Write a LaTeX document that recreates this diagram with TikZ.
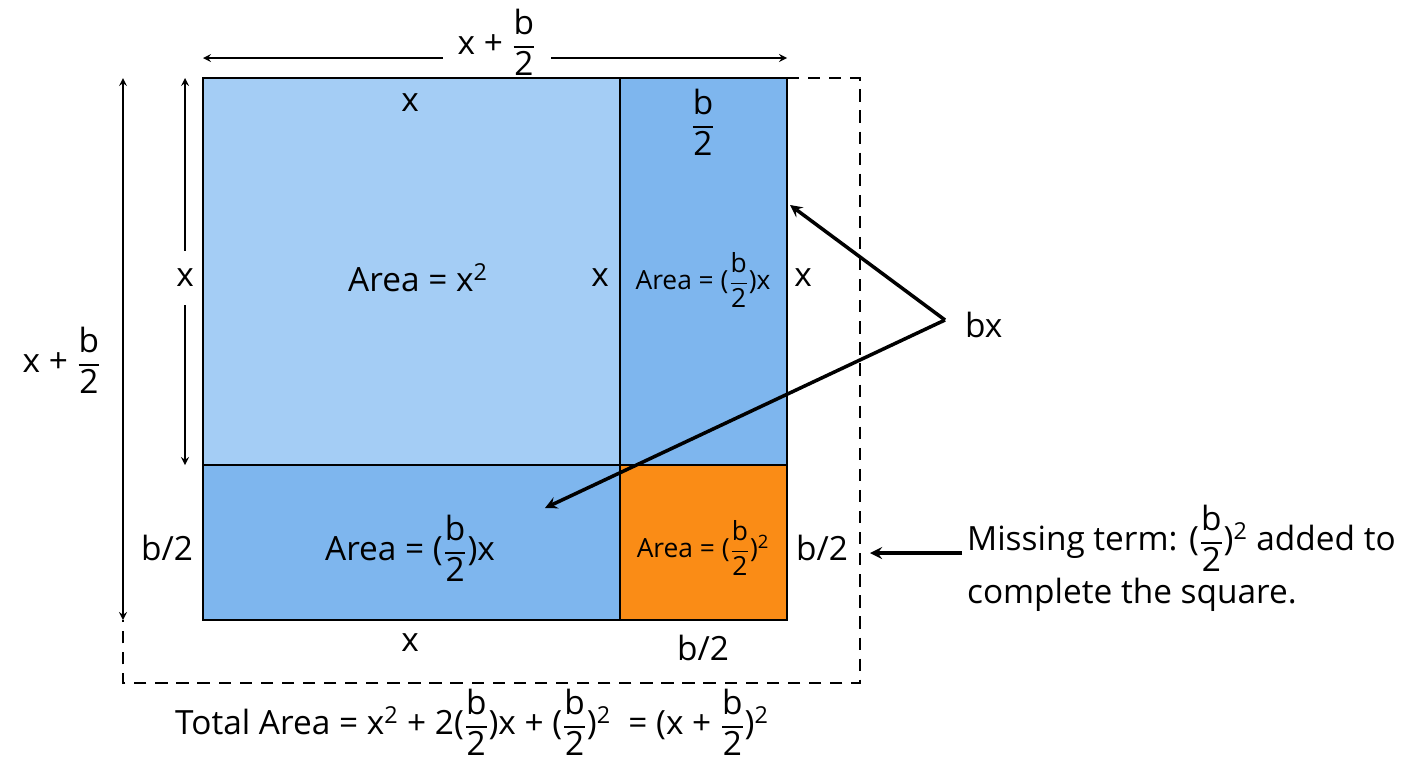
\documentclass[tikz,border=0pt]{standalone}
\usepackage{amsmath}
\usepackage{fontspec}
\setmainfont{Open Sans}
\usetikzlibrary{positioning}
\definecolor{lightsq}{HTML}{A4CDF5}
\definecolor{midsq}{HTML}{7EB6EE}
\definecolor{orangesq}{HTML}{FA8C16}
\newcommand{\hb}{$\dfrac{\text{b}}{\text{2}}$}
\newcommand{\sq}{$^{\text{2}}$}
\begin{document}
\begin{tikzpicture}[x=0.02cm,y=-0.02cm,
  lbl/.style={font=\fontsize{19}{22}\selectfont,inner sep=1pt},
  small/.style={font=\fontsize{15}{18}\selectfont,inner sep=1pt},
  region/.style={draw=black,line width=1.2pt},
  dim/.style={<->,>=stealth,line width=1pt},
  half/.style={<-,>=stealth,line width=1pt},
  pointer/.style={->,>=stealth,line width=2pt}]
  \useasboundingbox (0,0) rectangle (1408,768);
  % squares
  \fill[lightsq] (203,78) rectangle (620,465);
  \fill[midsq] (620,78) rectangle (787,465);
  \fill[midsq] (203,465) rectangle (620,620);
  \fill[orangesq] (620,465) rectangle (787,620);
  \draw[region] (203,78) rectangle (787,620);
  \draw[region] (620,78) -- (620,620);
  \draw[region] (203,465) -- (787,465);
  % dashed outline
  \draw[dash pattern=on 7pt off 5pt,line width=1pt] (787,78) -- (860,78) -- (860,683) -- (123,683) -- (123,620);
  % dimensions
  \node[lbl,inner xsep=8pt] (top) at (497,42) {x + \hb};
  \coordinate (tl) at (203,58);
  \coordinate (tr) at (787,58);
  \draw[half] (tl) -- (tl -| top.west);
  \draw[half] (tr) -- (tr -| top.east);
  \coordinate (ot) at (123,78);
  \coordinate (ob) at (123,620);
  \draw[dim] (ot) -- (ob);
  \node[lbl] (outer) at (62,360) {x + \hb};
  \node[lbl,inner ysep=10pt] (inner) at (185,278) {x};
  \coordinate (it) at (185,78);
  \coordinate (ib) at (185,465);
  \draw[half] (it) -- (inner.north);
  \draw[half] (ib) -- (inner.south);
  % labels
  \node[lbl] (xtop) at (410,103) {x};
  \node[lbl] (btop) at (703,122) {\hb};
  \node[lbl] (a1) at (418,278) {Area = x\sq};
  \node[lbl] (xmid) at (600,278) {x};
  \node[small] (a2) at (703,280) {Area = (\hb)x};
  \node[lbl] (xright) at (803,278) {x};
  \node[lbl] (a3) at (410,548) {Area = (\hb)x};
  \node[small] (a4) at (703,548) {Area = (\hb)\sq};
  \node[lbl] (bleft) at (167,548) {b/2};
  \node[lbl] (bright) at (822,548) {b/2};
  \node[lbl] (xbot) at (410,643) {x};
  \node[lbl] (bbot) at (703,648) {b/2};
  % pointers
  \node[lbl,anchor=west] (bx) at (963,325) {bx};
  \coordinate (hub) at (945,320);
  \coordinate (t1) at (790,205);
  \coordinate (t2) at (545,508);
  \draw[pointer] (hub) -- (t1);
  \draw[pointer] (hub) -- (t2);
  \node[lbl,anchor=west,align=left,font=\fontsize{19}{30}\selectfont] (miss) at (965,558) {Missing term: (\hb)\sq{} added to\\complete the square.};
  \coordinate (mt) at (870,553);
  \draw[pointer] (962,553) -- (mt);
  \node[lbl] (total) at (472,722) {Total Area = x\sq{} + 2(\hb)x + (\hb)\sq{} \ = (x + \hb)\sq};
\end{tikzpicture}
\end{document}
